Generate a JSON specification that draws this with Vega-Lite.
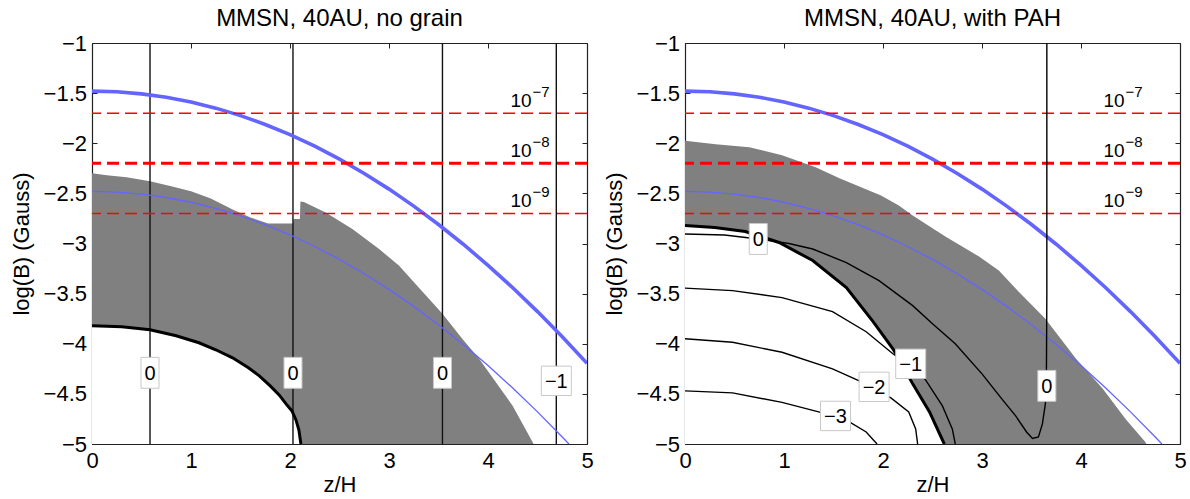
{
  "$schema": "https://vega.github.io/schema/vega-lite/v6.json",
  "background": "white",
  "padding": {"left": 10, "top": 7, "right": 0, "bottom": 0},
  "bounds": "flush",
  "spacing": 98,
  "datasets": {
    "field": [
      {"z": 0, "logB": -1.48, "curve": "thick"},
      {"z": 0.25, "logB": -1.4868, "curve": "thick"},
      {"z": 0.5, "logB": -1.5072, "curve": "thick"},
      {"z": 0.75, "logB": -1.5411, "curve": "thick"},
      {"z": 1, "logB": -1.5886, "curve": "thick"},
      {"z": 1.25, "logB": -1.6497, "curve": "thick"},
      {"z": 1.5, "logB": -1.7244, "curve": "thick"},
      {"z": 1.75, "logB": -1.8126, "curve": "thick"},
      {"z": 2, "logB": -1.9144, "curve": "thick"},
      {"z": 2.25, "logB": -2.0298, "curve": "thick"},
      {"z": 2.5, "logB": -2.1588, "curve": "thick"},
      {"z": 2.75, "logB": -2.3013, "curve": "thick"},
      {"z": 3, "logB": -2.4574, "curve": "thick"},
      {"z": 3.25, "logB": -2.6271, "curve": "thick"},
      {"z": 3.5, "logB": -2.8104, "curve": "thick"},
      {"z": 3.75, "logB": -3.0072, "curve": "thick"},
      {"z": 4, "logB": -3.2176, "curve": "thick"},
      {"z": 4.25, "logB": -3.4416, "curve": "thick"},
      {"z": 4.5, "logB": -3.6792, "curve": "thick"},
      {"z": 4.75, "logB": -3.9303, "curve": "thick"},
      {"z": 5, "logB": -4.195, "curve": "thick"},
      {"z": 0, "logB": -2.48, "curve": "thin"},
      {"z": 0.25, "logB": -2.4868, "curve": "thin"},
      {"z": 0.5, "logB": -2.5072, "curve": "thin"},
      {"z": 0.75, "logB": -2.5411, "curve": "thin"},
      {"z": 1, "logB": -2.5886, "curve": "thin"},
      {"z": 1.25, "logB": -2.6497, "curve": "thin"},
      {"z": 1.5, "logB": -2.7244, "curve": "thin"},
      {"z": 1.75, "logB": -2.8126, "curve": "thin"},
      {"z": 2, "logB": -2.9144, "curve": "thin"},
      {"z": 2.25, "logB": -3.0298, "curve": "thin"},
      {"z": 2.5, "logB": -3.1588, "curve": "thin"},
      {"z": 2.75, "logB": -3.3013, "curve": "thin"},
      {"z": 3, "logB": -3.4574, "curve": "thin"},
      {"z": 3.25, "logB": -3.6271, "curve": "thin"},
      {"z": 3.5, "logB": -3.8104, "curve": "thin"},
      {"z": 3.75, "logB": -4.0072, "curve": "thin"},
      {"z": 4, "logB": -4.2176, "curve": "thin"},
      {"z": 4.25, "logB": -4.4416, "curve": "thin"},
      {"z": 4.5, "logB": -4.6792, "curve": "thin"},
      {"z": 4.75, "logB": -4.9303, "curve": "thin"},
      {"z": 4.817, "logB": -5.0, "curve": "thin"}
    ],
    "levels": [
      {"logB": -1.7, "w": "thin", "base": "10", "exp": "−7"},
      {"logB": -2.2, "w": "thick", "base": "10", "exp": "−8"},
      {"logB": -2.7, "w": "thin", "base": "10", "exp": "−9"}
    ],
    "leftShell": [
      {"z": 0, "logB": -2.30}, {"z": 0.15, "logB": -2.32}, {"z": 0.35, "logB": -2.34},
      {"z": 0.586, "logB": -2.38}, {"z": 0.8, "logB": -2.43}, {"z": 1.0, "logB": -2.48},
      {"z": 1.2, "logB": -2.55}, {"z": 1.42, "logB": -2.66}, {"z": 1.6, "logB": -2.74},
      {"z": 1.78, "logB": -2.80}, {"z": 2.03, "logB": -2.80}, {"z": 2.035, "logB": -2.755},
      {"z": 2.10, "logB": -2.755}, {"z": 2.105, "logB": -2.58}, {"z": 2.14, "logB": -2.585},
      {"z": 2.36, "logB": -2.69}, {"z": 2.63, "logB": -2.855}, {"z": 2.90, "logB": -3.055},
      {"z": 3.10, "logB": -3.22}, {"z": 3.30, "logB": -3.44}, {"z": 3.54, "logB": -3.70},
      {"z": 3.74, "logB": -3.95}, {"z": 3.91, "logB": -4.15}, {"z": 4.08, "logB": -4.385},
      {"z": 4.25, "logB": -4.62}, {"z": 4.45, "logB": -4.98}, {"z": 4.46, "logB": -5.0}
    ],
    "leftCore": [
      {"z": 0, "logB": -3.82}, {"z": 0.3, "logB": -3.83}, {"z": 0.586, "logB": -3.86},
      {"z": 0.85, "logB": -3.92}, {"z": 1.08, "logB": -3.99}, {"z": 1.25, "logB": -4.06},
      {"z": 1.42, "logB": -4.14}, {"z": 1.58, "logB": -4.24}, {"z": 1.69, "logB": -4.32},
      {"z": 1.80, "logB": -4.42}, {"z": 1.89, "logB": -4.51}, {"z": 1.96, "logB": -4.60},
      {"z": 2.02, "logB": -4.67}, {"z": 2.06, "logB": -4.76}, {"z": 2.09, "logB": -4.86},
      {"z": 2.11, "logB": -5.0}
    ],
    "leftVertical": [
      {"z": 0.586}, {"z": 2.03}, {"z": 3.54}, {"z": 4.69}
    ],
    "leftLabels": [
      {"z": 0.586, "logB": -4.29, "label": "0", "box": "narrow"},
      {"z": 2.03, "logB": -4.29, "label": "0", "box": "narrow"},
      {"z": 3.54, "logB": -4.29, "label": "0", "box": "narrow"},
      {"z": 4.69, "logB": -4.37, "label": "−1", "box": "wide"}
    ],
    "rightShell": [
      {"z": 0, "logB": -1.975}, {"z": 0.31, "logB": -2.01}, {"z": 0.65, "logB": -2.04},
      {"z": 0.98, "logB": -2.12}, {"z": 1.32, "logB": -2.24}, {"z": 1.56, "logB": -2.35},
      {"z": 1.98, "logB": -2.52}, {"z": 2.16, "logB": -2.62}, {"z": 2.30, "logB": -2.72},
      {"z": 2.63, "logB": -2.93}, {"z": 2.97, "logB": -3.13}, {"z": 3.17, "logB": -3.27},
      {"z": 3.34, "logB": -3.45}, {"z": 3.64, "logB": -3.75}, {"z": 3.95, "logB": -4.15},
      {"z": 4.22, "logB": -4.45}, {"z": 4.45, "logB": -4.75}, {"z": 4.65, "logB": -4.98},
      {"z": 4.66, "logB": -5.0}
    ],
    "rightCore": [
      {"z": 0, "logB": -2.82}, {"z": 0.3, "logB": -2.84}, {"z": 0.61, "logB": -2.88},
      {"z": 0.95, "logB": -2.99}, {"z": 1.29, "logB": -3.17}, {"z": 1.63, "logB": -3.44},
      {"z": 1.90, "logB": -3.78}, {"z": 2.10, "logB": -4.05}, {"z": 2.20, "logB": -4.22},
      {"z": 2.30, "logB": -4.40}, {"z": 2.47, "logB": -4.68}, {"z": 2.61, "logB": -4.98},
      {"z": 2.62, "logB": -5.0}
    ],
    "rightContours": [
      {"level": "0", "z": 0, "logB": -2.905}, {"level": "0", "z": 0.4, "logB": -2.915},
      {"level": "0", "z": 0.74, "logB": -2.955}, {"level": "0", "z": 1.05, "logB": -3.0},
      {"level": "0", "z": 1.29, "logB": -3.055}, {"level": "0", "z": 1.63, "logB": -3.19},
      {"level": "0", "z": 1.96, "logB": -3.37}, {"level": "0", "z": 2.30, "logB": -3.62},
      {"level": "0", "z": 2.50, "logB": -3.80}, {"level": "0", "z": 2.73, "logB": -4.0},
      {"level": "0", "z": 3.0, "logB": -4.30}, {"level": "0", "z": 3.2, "logB": -4.55},
      {"level": "0", "z": 3.34, "logB": -4.72}, {"level": "0", "z": 3.45, "logB": -4.88},
      {"level": "0", "z": 3.51, "logB": -4.945}, {"level": "0", "z": 3.57, "logB": -4.93},
      {"level": "0", "z": 3.61, "logB": -4.80}, {"level": "0", "z": 3.64, "logB": -4.60},
      {"level": "0", "z": 3.65, "logB": -4.42}, {"level": "0", "z": 3.655, "logB": -3.5},
      {"level": "0", "z": 3.655, "logB": -1.0},
      {"level": "−1", "z": 0, "logB": -3.445}, {"level": "−1", "z": 0.48, "logB": -3.47},
      {"level": "−1", "z": 0.98, "logB": -3.54}, {"level": "−1", "z": 1.49, "logB": -3.68},
      {"level": "−1", "z": 1.83, "logB": -3.88}, {"level": "−1", "z": 2.10, "logB": -4.10},
      {"level": "−1", "z": 2.28, "logB": -4.22}, {"level": "−1", "z": 2.43, "logB": -4.36},
      {"level": "−1", "z": 2.60, "logB": -4.62}, {"level": "−1", "z": 2.70, "logB": -4.85},
      {"level": "−1", "z": 2.73, "logB": -5.0},
      {"level": "−2", "z": 0, "logB": -3.95}, {"level": "−2", "z": 0.48, "logB": -3.985},
      {"level": "−2", "z": 0.98, "logB": -4.085}, {"level": "−2", "z": 1.49, "logB": -4.25},
      {"level": "−2", "z": 1.76, "logB": -4.37}, {"level": "−2", "z": 1.91, "logB": -4.45},
      {"level": "−2", "z": 2.08, "logB": -4.54}, {"level": "−2", "z": 2.26, "logB": -4.68},
      {"level": "−2", "z": 2.33, "logB": -4.85}, {"level": "−2", "z": 2.35, "logB": -5.0},
      {"level": "−3", "z": 0, "logB": -4.47}, {"level": "−3", "z": 0.48, "logB": -4.49},
      {"level": "−3", "z": 0.98, "logB": -4.585}, {"level": "−3", "z": 1.35, "logB": -4.68},
      {"level": "−3", "z": 1.52, "logB": -4.73}, {"level": "−3", "z": 1.66, "logB": -4.78},
      {"level": "−3", "z": 1.83, "logB": -4.88}, {"level": "−3", "z": 1.94, "logB": -5.0}
    ],
    "rightLabels": [
      {"z": 0.74, "logB": -2.955, "label": "0", "box": "narrow"},
      {"z": 2.28, "logB": -4.20, "label": "−1", "box": "wide"},
      {"z": 1.91, "logB": -4.43, "label": "−2", "box": "wide"},
      {"z": 1.52, "logB": -4.72, "label": "−3", "box": "wide"},
      {"z": 3.655, "logB": -4.42, "label": "0", "box": "narrow"}
    ]
  },
  "hconcat": [
    {
      "width": 495,
      "height": 401,
      "title": {"text": "MMSN, 40AU, no grain"},
      "layer": [
        {
          "data": {"name": "leftShell"},
          "mark": {"type": "area", "color": "#808080", "clip": true},
          "encoding": {
            "x": {"field": "z", "type": "quantitative",
                  "scale": {"domain": [0, 5], "nice": false, "zero": false},
                  "axis": {"orient": "bottom", "values": [0, 1, 2, 3, 4, 5], "format": "~g", "title": "z/H", "labelPadding": 11, "titlePadding": 3}},
            "y": {"field": "logB", "type": "quantitative",
                  "scale": {"domain": [-5, -1], "nice": false, "zero": false},
                  "axis": {"orient": "left", "values": [-5, -4.5, -4, -3.5, -3, -2.5, -2, -1.5, -1], "format": "~g", "title": "log(B) (Gauss)", "labelPadding": 10.5, "titlePadding": 10}},
            "y2": {"datum": -5}
          }
        },
        {
          "data": {"name": "leftCore"},
          "mark": {"type": "area", "color": "white", "clip": true},
          "encoding": {
            "x": {"field": "z", "type": "quantitative", "axis": null},
            "y": {"field": "logB", "type": "quantitative", "axis": null},
            "y2": {"datum": -5}
          }
        },
        {
          "data": {"name": "leftVertical"},
          "mark": {"type": "rule", "color": "#111", "strokeWidth": 1.4},
          "encoding": {"x": {"field": "z", "type": "quantitative", "axis": null}}
        },
        {
          "data": {"name": "field"},
          "mark": {"type": "line", "color": "#6464ff", "clip": true},
          "encoding": {
            "x": {"field": "z", "type": "quantitative",
                  "axis": {"orient": "top", "values": [0, 1, 2, 3, 4, 5], "labels": false, "title": null}},
            "y": {"field": "logB", "type": "quantitative",
                  "axis": {"orient": "right", "values": [-5, -4.5, -4, -3.5, -3, -2.5, -2, -1.5, -1], "labels": false, "title": null}},
            "strokeWidth": {"field": "curve", "type": "nominal", "scale": {"domain": ["thick", "thin"], "range": [3.6, 1.3]}, "legend": null}
          }
        },
        {
          "data": {"name": "levels"},
          "mark": {"type": "rule", "color": "#ff0000", "strokeDash": [12, 6]},
          "encoding": {
            "y": {"field": "logB", "type": "quantitative", "axis": null},
            "strokeWidth": {"field": "w", "type": "nominal", "scale": {"domain": ["thin", "thick"], "range": [1.5, 3]}, "legend": null}
          }
        },
        {
          "data": {"name": "leftCore"},
          "mark": {"type": "line", "color": "#000", "strokeWidth": 3, "clip": true},
          "encoding": {
            "x": {"field": "z", "type": "quantitative", "axis": null},
            "y": {"field": "logB", "type": "quantitative", "axis": null}
          }
        },
        {
          "data": {"name": "leftLabels"},
          "mark": {"type": "point", "filled": true, "fill": "white", "stroke": "#c8c8c8", "strokeWidth": 1, "size": 900, "opacity": 1},
          "encoding": {
            "x": {"field": "z", "type": "quantitative", "axis": null},
            "y": {"field": "logB", "type": "quantitative", "axis": null},
            "shape": {"field": "box", "type": "nominal", "scale": {"domain": ["narrow", "wide"], "range": ["M-0.6,-1.03H0.6V1.03H-0.6Z", "M-1,-0.98H1V0.98H-1Z"]}, "legend": null}
          }
        },
        {
          "data": {"name": "leftLabels"},
          "mark": {"type": "text", "fontSize": 20, "align": "center", "baseline": "middle", "dy": 1, "color": "#000"},
          "encoding": {
            "x": {"field": "z", "type": "quantitative", "axis": null},
            "y": {"field": "logB", "type": "quantitative", "axis": null},
            "text": {"field": "label"}
          }
        },
        {
          "data": {"name": "levels"},
          "mark": {"type": "text", "fontSize": 19, "align": "right", "baseline": "alphabetic", "dy": -6, "color": "#000"},
          "encoding": {
            "x": {"datum": 4.44, "type": "quantitative", "axis": null},
            "y": {"field": "logB", "type": "quantitative", "axis": null},
            "text": {"field": "base"}
          }
        },
        {
          "data": {"name": "levels"},
          "mark": {"type": "text", "fontSize": 15, "align": "left", "baseline": "alphabetic", "dx": 1, "dy": -16, "color": "#000"},
          "encoding": {
            "x": {"datum": 4.44, "type": "quantitative", "axis": null},
            "y": {"field": "logB", "type": "quantitative", "axis": null},
            "text": {"field": "exp"}
          }
        }
      ],
      "resolve": {"axis": {"x": "independent", "y": "independent"}, "scale": {"strokeWidth": "independent"}}
    },
    {
      "width": 495,
      "height": 401,
      "title": {"text": "MMSN, 40AU, with PAH"},
      "layer": [
        {
          "data": {"name": "rightShell"},
          "mark": {"type": "area", "color": "#808080", "clip": true},
          "encoding": {
            "x": {"field": "z", "type": "quantitative",
                  "scale": {"domain": [0, 5], "nice": false, "zero": false},
                  "axis": {"orient": "bottom", "values": [0, 1, 2, 3, 4, 5], "format": "~g", "title": "z/H", "labelPadding": 11, "titlePadding": 3}},
            "y": {"field": "logB", "type": "quantitative",
                  "scale": {"domain": [-5, -1], "nice": false, "zero": false},
                  "axis": {"orient": "left", "values": [-5, -4.5, -4, -3.5, -3, -2.5, -2, -1.5, -1], "format": "~g", "title": "log(B) (Gauss)", "labelPadding": 10.5, "titlePadding": 10}},
            "y2": {"datum": -5}
          }
        },
        {
          "data": {"name": "rightCore"},
          "mark": {"type": "area", "color": "white", "clip": true},
          "encoding": {
            "x": {"field": "z", "type": "quantitative", "axis": null},
            "y": {"field": "logB", "type": "quantitative", "axis": null},
            "y2": {"datum": -5}
          }
        },
        {
          "data": {"name": "field"},
          "mark": {"type": "line", "color": "#6464ff", "clip": true},
          "encoding": {
            "x": {"field": "z", "type": "quantitative",
                  "axis": {"orient": "top", "values": [0, 1, 2, 3, 4, 5], "labels": false, "title": null}},
            "y": {"field": "logB", "type": "quantitative",
                  "axis": {"orient": "right", "values": [-5, -4.5, -4, -3.5, -3, -2.5, -2, -1.5, -1], "labels": false, "title": null}},
            "strokeWidth": {"field": "curve", "type": "nominal", "scale": {"domain": ["thick", "thin"], "range": [3.6, 1.3]}, "legend": null}
          }
        },
        {
          "data": {"name": "levels"},
          "mark": {"type": "rule", "color": "#ff0000", "strokeDash": [12, 6]},
          "encoding": {
            "y": {"field": "logB", "type": "quantitative", "axis": null},
            "strokeWidth": {"field": "w", "type": "nominal", "scale": {"domain": ["thin", "thick"], "range": [1.5, 3]}, "legend": null}
          }
        },
        {
          "data": {"name": "rightContours"},
          "mark": {"type": "line", "color": "#000", "strokeWidth": 1.4, "clip": true},
          "encoding": {
            "x": {"field": "z", "type": "quantitative", "axis": null},
            "y": {"field": "logB", "type": "quantitative", "axis": null},
            "detail": {"field": "level", "type": "nominal"},
            "order": {"value": null}
          }
        },
        {
          "data": {"name": "rightCore"},
          "mark": {"type": "line", "color": "#000", "strokeWidth": 3, "clip": true},
          "encoding": {
            "x": {"field": "z", "type": "quantitative", "axis": null},
            "y": {"field": "logB", "type": "quantitative", "axis": null}
          }
        },
        {
          "data": {"name": "rightLabels"},
          "mark": {"type": "point", "filled": true, "fill": "white", "stroke": "#c8c8c8", "strokeWidth": 1, "size": 900, "opacity": 1},
          "encoding": {
            "x": {"field": "z", "type": "quantitative", "axis": null},
            "y": {"field": "logB", "type": "quantitative", "axis": null},
            "shape": {"field": "box", "type": "nominal", "scale": {"domain": ["narrow", "wide"], "range": ["M-0.6,-1.03H0.6V1.03H-0.6Z", "M-1,-0.98H1V0.98H-1Z"]}, "legend": null}
          }
        },
        {
          "data": {"name": "rightLabels"},
          "mark": {"type": "text", "fontSize": 20, "align": "center", "baseline": "middle", "dy": 1, "color": "#000"},
          "encoding": {
            "x": {"field": "z", "type": "quantitative", "axis": null},
            "y": {"field": "logB", "type": "quantitative", "axis": null},
            "text": {"field": "label"}
          }
        },
        {
          "data": {"name": "levels"},
          "mark": {"type": "text", "fontSize": 19, "align": "right", "baseline": "alphabetic", "dy": -6, "color": "#000"},
          "encoding": {
            "x": {"datum": 4.44, "type": "quantitative", "axis": null},
            "y": {"field": "logB", "type": "quantitative", "axis": null},
            "text": {"field": "base"}
          }
        },
        {
          "data": {"name": "levels"},
          "mark": {"type": "text", "fontSize": 15, "align": "left", "baseline": "alphabetic", "dx": 1, "dy": -16, "color": "#000"},
          "encoding": {
            "x": {"datum": 4.44, "type": "quantitative", "axis": null},
            "y": {"field": "logB", "type": "quantitative", "axis": null},
            "text": {"field": "exp"}
          }
        }
      ],
      "resolve": {"axis": {"x": "independent", "y": "independent"}, "scale": {"strokeWidth": "independent"}}
    }
  ],
  "config": {
    "font": "Liberation Sans",
    "view": {"stroke": null},
    "axis": {
      "grid": false,
      "domainColor": "#222",
      "domainWidth": 1.2,
      "tickColor": "#222",
      "tickWidth": 1,
      "tickSize": -5,
      "labelFont": "Liberation Sans",
      "labelFontSize": 22,
      "labelColor": "#000",
      "titleFont": "Liberation Sans",
      "titleFontSize": 22,
      "titleFontWeight": "normal",
      "titleColor": "#000",
      "labelFlush": false,
      "labelOverlap": false,
      "zindex": 1
    },
    "title": {
      "font": "Liberation Sans",
      "fontSize": 24,
      "fontWeight": "normal",
      "color": "#000",
      "anchor": "middle",
      "baseline": "alphabetic",
      "offset": 1
    }
  }
}
